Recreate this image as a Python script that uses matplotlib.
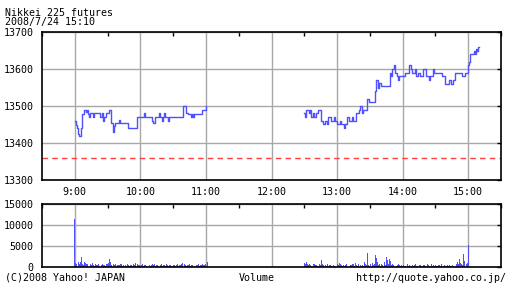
import numpy as np
import matplotlib
matplotlib.use("Agg")
import matplotlib.pyplot as plt
from matplotlib.ticker import MultipleLocator

# ---- data (x = minutes after 9:00) ----
am_t = [0, 1, 2, 3, 4, 6, 7, 8, 10, 11, 12, 13, 14, 17, 18, 23, 25, 26, 27, 29,
        31, 33, 35, 36, 37, 40, 41, 49, 57, 63, 64, 71, 72, 73, 77, 78, 80, 81,
        82, 83, 85, 86, 99, 102, 104, 106, 107, 108, 109, 113, 116, 120]
am_p = [13460, 13448, 13440, 13425, 13420, 13440, 13478, 13488, 13485, 13488,
        13478, 13471, 13480, 13471, 13480, 13470, 13480, 13460, 13470, 13480,
        13488, 13453, 13431, 13445, 13453, 13461, 13453, 13440, 13469, 13480,
        13469, 13460, 13453, 13469, 13480, 13469, 13460, 13469, 13480, 13469,
        13460, 13469, 13500, 13480, 13478, 13469, 13478, 13469, 13478, 13478,
        13488, 13500]

pm_t = [210, 211, 212, 214, 215, 216, 218, 219, 221, 223, 225, 227, 229, 231,
        232, 234, 237, 238, 240, 243, 244, 246, 247, 249, 251, 254, 255, 257,
        260, 261, 263, 264, 267, 269, 272, 275, 276, 277, 278, 280, 283, 288,
        289, 290, 292, 293, 295, 296, 297, 302, 306, 308, 309, 311, 312, 314,
        316, 319, 321, 324, 325, 328, 329, 336, 339, 342, 344, 346, 348, 354,
        357, 360, 361, 362, 365, 366, 367, 368, 369, 370]
pm_p = [13481, 13470, 13490, 13481, 13490, 13470, 13481, 13470, 13481, 13490,
        13459, 13452, 13459, 13452, 13470, 13459, 13470, 13459, 13452, 13459,
        13452, 13440, 13452, 13470, 13459, 13470, 13459, 13481, 13490, 13500,
        13481, 13490, 13519, 13510, 13512, 13540, 13571, 13550, 13562, 13555,
        13553, 13589, 13580, 13600, 13611, 13589, 13580, 13571, 13580, 13589,
        13611, 13600, 13589, 13600, 13580, 13589, 13580, 13600, 13580, 13571,
        13580, 13600, 13589, 13580, 13560, 13571, 13560, 13571, 13589, 13580,
        13589, 13610, 13620, 13641, 13650, 13641, 13655, 13650, 13659, 13659]

prev_close = 13360

am_vol = [11500, 1000, 800, 1200, 700, 1300, 2500, 900, 600, 1200, 1000,
          800, 900, 500, 700, 600, 1000, 500, 400, 700, 500,
          600, 800, 400, 500, 700, 600, 500, 400, 800, 700,
          1000, 2000, 1200, 600, 800, 500, 700, 400, 500, 600,
          500, 700, 800, 400, 500, 600, 400, 700, 500, 400,
          600, 500, 400, 800, 600, 1000, 700, 500, 600, 400,
          500, 700, 400, 600, 500, 400, 700, 500, 400, 600,
          700, 500, 800, 400, 500, 600, 400, 500, 700, 400,
          500, 600, 400, 700, 500, 400, 600, 500, 400, 500,
          600, 400, 500, 700, 400, 500, 600, 800, 1000, 700,
          500, 400, 600, 500, 700, 400, 500, 600, 400, 500,
          600, 500, 700, 400, 600, 500, 800, 500, 600, 700, 1300]
pm_vol = [1100, 900, 1200, 700, 500, 800, 600, 400, 900, 700,
          500, 600, 400, 300, 700, 500, 1700, 900, 600, 500,
          400, 700, 300, 500, 600, 400, 300, 500, 400, 300,
          800, 600, 1000, 700, 500, 400, 600, 300, 500, 700,
          400, 300, 600, 500, 900, 700, 400, 1000, 600, 400,
          800, 500, 300, 600, 400, 1200, 700, 500, 3400, 600,
          400, 700, 1000, 500, 800, 2900, 2200, 1200, 600, 900,
          400, 700, 500, 1300, 600, 2500, 1800, 700, 2000, 1400,
          600, 900, 500, 700, 400, 600, 800, 500, 300, 600,
          400, 500, 300, 400, 700, 300, 500, 400, 300, 600,
          400, 500, 700, 400, 300, 600, 500, 300, 400, 600,
          500, 300, 400, 700, 500, 300, 800, 400, 600, 300,
          500, 400, 300, 600, 500, 400, 700, 300, 500, 400,
          300, 600, 400, 500, 300, 400, 600, 500, 300, 700,
          1200, 900, 2000, 1100, 800, 600, 3150, 1500, 900, 1000,
          5300]

hour_ticks = [0, 60, 120, 180, 240, 300, 360]
hour_labels = ["9:00", "10:00", "11:00", "12:00", "13:00", "14:00", "15:00"]
price_ticks = [13300, 13400, 13500, 13600, 13700]
vol_ticks = [0, 5000, 10000, 15000]

BLUE = "#5050ff"
GRID = "#a8a8a8"
FONT = dict(family="DejaVu Sans Mono", size=7.2)

plt.rcParams["font.family"] = "DejaVu Sans Mono"
plt.rcParams["font.size"] = 7.2

fig = plt.figure(figsize=(5.12, 2.88), dpi=100)
fig.patch.set_facecolor("white")

W, H = 512, 288
def rect(x0, y0, x1, y1):
    return [x0 / W, 1 - y1 / H, (x1 - x0) / W, (y1 - y0) / H]

ax = fig.add_axes(rect(42, 32, 501, 180))
axv = fig.add_axes(rect(42, 204, 501, 267.3))

for a in (ax, axv):
    a.set_xlim(-30, 390)
    a.set_xticks(hour_ticks)
    a.xaxis.set_minor_locator(MultipleLocator(30))
    a.grid(True, which="major", axis="both", color=GRID, linewidth=1.0)
    a.set_axisbelow(True)
    a.tick_params(axis="x", which="major", length=0, pad=5, labelsize=7.2)
    a.tick_params(axis="x", which="minor", top=True, bottom=False,
                  direction="in", length=3, width=1)
    a.tick_params(axis="y", left=False, right=True, direction="in",
                  length=3, width=1, pad=6, labelsize=7.2)
    for s in a.spines.values():
        s.set_linewidth(1.2)
        s.set_color("black")

ax.set_ylim(13300, 13700)
ax.set_yticks(price_ticks)
ax.set_xticklabels(hour_labels)
ax.step(am_t, am_p, where="post", color=BLUE, linewidth=1)
ax.step(pm_t, pm_p, where="post", color=BLUE, linewidth=1)
ax.axhline(prev_close, color="#ff4040", linewidth=1, linestyle=(0, (4, 3)))

axv.set_ylim(0, 15000)
axv.set_yticks(vol_ticks)
axv.set_xticklabels([])
am_x = np.arange(len(am_vol))
pm_x = 210 + np.arange(len(pm_vol))
axv.bar(am_x, am_vol, width=0.9, color=BLUE, linewidth=0, antialiased=False)
axv.bar(pm_x, pm_vol, width=0.9, color=BLUE, linewidth=0, antialiased=False)

fig.text(5 / W, 1 - 12.5 / H, "Nikkei 225 futures", va="center", ha="left", **FONT)
fig.text(5 / W, 1 - 21.5 / H, "2008/7/24 15:10", va="center", ha="left", **FONT)
fig.text(5 / W, 1 - 278 / H, "(C)2008 Yahoo! JAPAN", va="center", ha="left", **FONT)
fig.text(257 / W, 1 - 278 / H, "Volume", va="center", ha="center", **FONT)
fig.text(506 / W, 1 - 278 / H, "http://quote.yahoo.co.jp/", va="center", ha="right", **FONT)

fig.savefig("out.png", dpi=100, facecolor="white")
